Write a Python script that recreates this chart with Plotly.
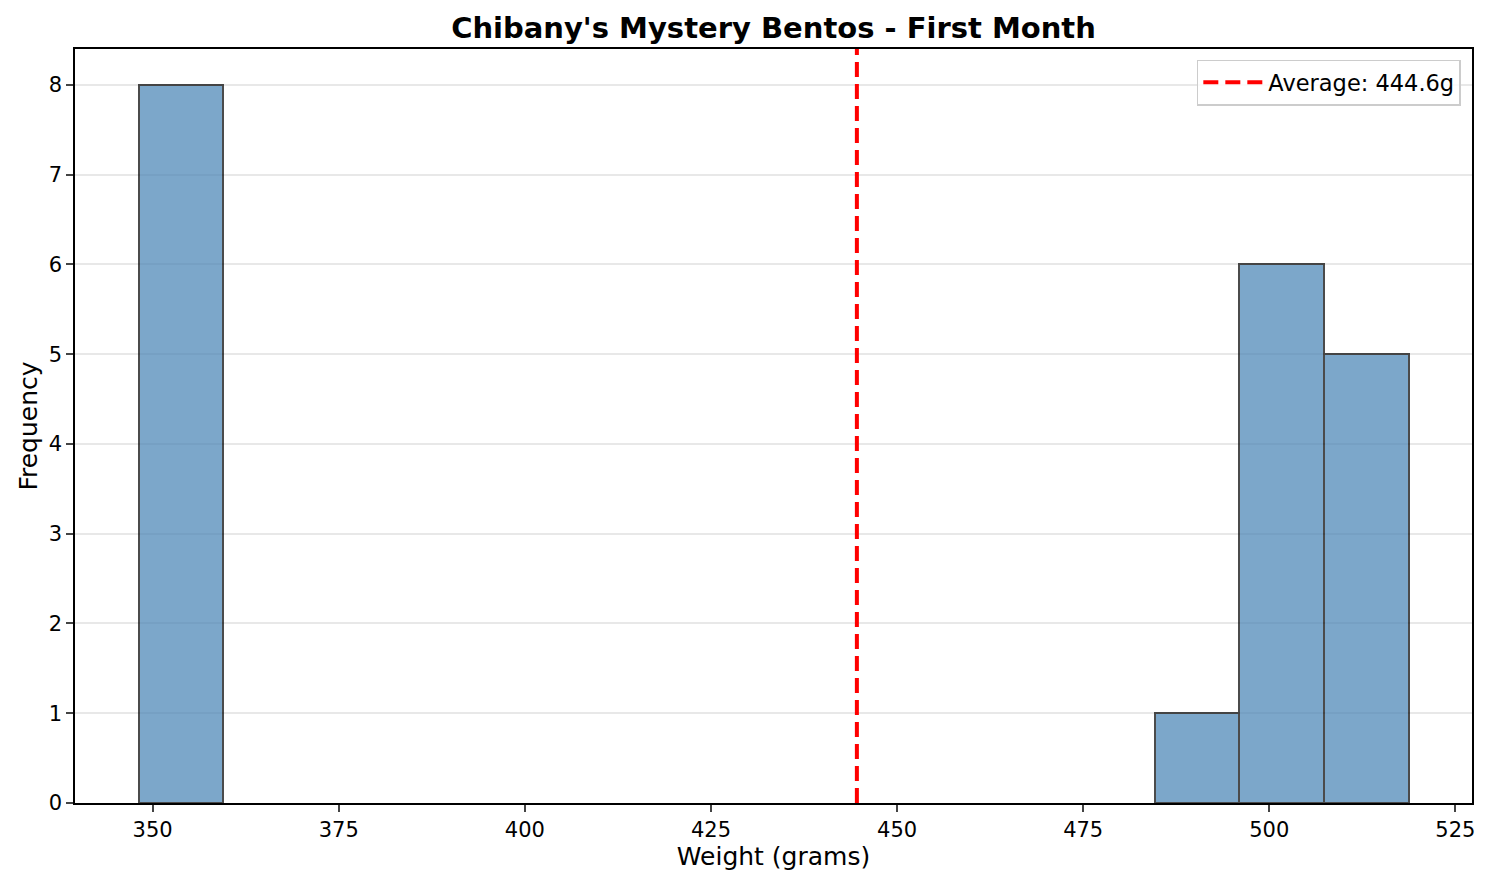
import numpy as np
import plotly.graph_objects as go

# histogram of bento weights (15 bins between min and max weight)
weight_min = 348.1
weight_max = 518.7
bin_counts = [8, 0, 0, 0, 0, 0, 0, 0, 0, 0, 0, 0, 1, 6, 5]
mean_weight = 444.6

x_ticks = [350, 375, 400, 425, 450, 475, 500, 525]
y_ticks = [0, 1, 2, 3, 4, 5, 6, 7, 8]

edges = np.linspace(weight_min, weight_max, len(bin_counts) + 1)
centers = (edges[:-1] + edges[1:]) / 2
widths = np.diff(edges)
# empty bins draw nothing (no outline along the baseline)
keep = np.array(bin_counts) > 0

font = "DejaVu Sans"
off = 7  # page offset inside the browser window

fig = go.Figure()
fig.add_trace(go.Bar(
    x=centers[keep], y=np.array(bin_counts)[keep], width=widths[keep],
    marker=dict(color="steelblue", line=dict(color="black", width=2)),
    opacity=0.7, showlegend=False, hoverinfo="x+y",
))

# average line (shape so it spans the full axis height)
fig.add_shape(
    type="line", x0=mean_weight, x1=mean_weight, y0=0, y1=1,
    xref="x", yref="y domain",
    line=dict(color="red", width=4, dash="15px,7px"),
    showlegend=True, name=f"Average: {mean_weight}g",
)

span = weight_max - weight_min
fig.update_layout(
    width=1486, height=884,
    margin=dict(l=74 - off, r=15 + off, t=48 - off, b=82 + off),
    paper_bgcolor="white", plot_bgcolor="white",
    font=dict(family=font, size=21, color="black"),
    title=dict(text="<b>Chibany's Mystery Bentos - First Month</b>",
               x=0.5, xref="paper", y=1 - (27 - off) / 884, yref="container",
               yanchor="middle", font=dict(size=29)),
    bargap=0,
    legend=dict(x=0.992, y=0.986, xanchor="right", yanchor="top",
                bgcolor="rgba(255,255,255,0.8)", bordercolor="#cccccc",
                borderwidth=1.5, font=dict(size=22.5), itemwidth=60),
)
fig.update_xaxes(
    range=[weight_min - 0.05 * span, weight_max + 0.05 * span],
    tickvals=x_ticks, ticks="outside", ticklen=7, tickwidth=1.6,
    showline=True, linecolor="black", linewidth=1.6, mirror=True,
    showgrid=False, zeroline=False,
    title=dict(text="Weight (grams)", font=dict(size=25), standoff=6),
)
fig.update_yaxes(
    range=[0, 8.4], tickvals=y_ticks, ticks="outside", ticklen=7, tickwidth=1.6,
    showline=True, linecolor="black", linewidth=1.6, mirror=True,
    showgrid=True, gridcolor="#e8e8e8", gridwidth=1.6, zeroline=False,
    title=dict(text="Frequency", font=dict(size=25), standoff=4),
)

fig.write_html("out.html")
